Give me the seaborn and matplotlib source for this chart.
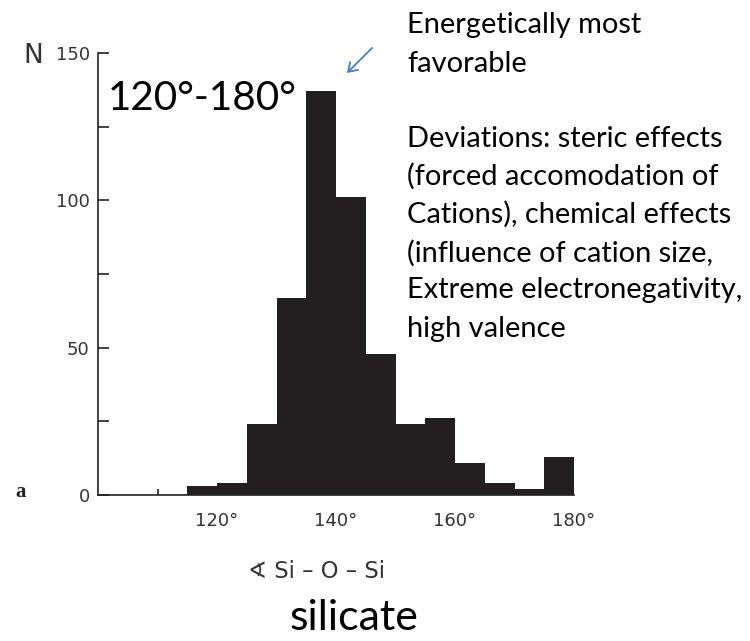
import matplotlib
matplotlib.use('Agg')
import matplotlib.pyplot as plt
import seaborn as sns

# ---- data ----
bin_edges = [115, 120, 125, 130, 135, 140, 145, 150, 155, 160, 165, 170, 175, 180]
counts = [3, 4, 24, 67, 137, 101, 48, 24, 26, 11, 4, 2, 13]
x_ticks = [120, 140, 160, 180]
x_tick_labels = ['120°', '140°', '160°', '180°']
y_ticks = [0, 50, 100, 150]
y_tick_labels = ['0', '50', '100', '150']
range_label = '120°-180°'
note_lines = ['Energetically most', 'favorable', '',
              'Deviations: steric effects', '(forced accomodation of',
              'Cations), chemical effects', '(influence of cation size,',
              'Extreme electronegativity,', 'high valence']
x_label = '∢ Si – O – Si'
title_bottom = 'silicate'

sns.set_style('ticks')
plt.rcParams['font.family'] = ['DejaVu Sans']

W, H = 750, 641
fig = plt.figure(figsize=(W / 100, H / 100), dpi=100)


def fx(x):
    return x / W


def fy(y):
    return 1 - y / H


ax = fig.add_axes([fx(98), fy(495), (574 - 98) / W, (495 - 53) / H])
centers = [(a + b) / 2 for a, b in zip(bin_edges[:-1], bin_edges[1:])]
sns.histplot(x=centers, weights=counts, bins=bin_edges, color='#231f20',
             alpha=1, edgecolor='none', linewidth=0, ax=ax)
ax.set_axisbelow(True)
ax.set_xlim(100, 180)
ax.set_ylim(0, 150)
ax.set_xlabel('')
ax.set_ylabel('')
for s in ['top', 'right']:
    ax.spines[s].set_visible(False)
for s in ['left', 'bottom']:
    ax.spines[s].set_linewidth(1.2)
    ax.spines[s].set_color('#222222')

ax.set_xticks(x_ticks, x_tick_labels)
ax.set_xticks([110, 130, 150, 170], minor=True)
ax.tick_params(axis='x', which='major', length=0, pad=12, labelsize=13, labelcolor='#333333')
ax.tick_params(axis='x', which='minor', direction='in', length=4, width=1.2, color='#222222')
ax.set_yticks(y_ticks, y_tick_labels)
ax.set_yticks([25, 75, 125], minor=True)
ax.tick_params(axis='y', which='both', direction='in', length=8, width=1.2,
               color='#222222', pad=6, labelsize=13, labelcolor='#333333')

fig.canvas.draw()
renderer = fig.canvas.get_renderer()


def fit_text(x, y, s, target_w, **kw):
    t = fig.text(fx(x), fy(y), s, fontsize=20, **kw)
    w = t.get_window_extent(renderer).width
    t.set_fontsize(20 * target_w / w)
    return t


ann_font = ['Lato', 'DejaVu Sans']
fit_text(108, 110, range_label, 189, family=ann_font, va='baseline', ha='left', color='black')

# notes
tmp = fig.text(0, 0, 'Extreme electronegativity,', fontsize=20, family=ann_font)
w = tmp.get_window_extent(renderer).width
tmp.remove()
note_size = 20 * 336 / w
baselines = [33, 72, 110, 147, 185, 223, 262, 298, 337]
for line, b in zip(note_lines, baselines):
    if line:
        fig.text(fx(407), fy(b), line, fontsize=note_size, family=ann_font,
                 va='baseline', ha='left', color='black')

fit_text(354, 630, title_bottom, 130, family=ann_font, va='baseline', ha='center', color='black')
fit_text(317, 578, x_label, 137, va='baseline', ha='center', color='#333333')

fig.text(fx(33), fy(56), 'N', fontsize=19, ha='center', va='center', color='#333333')
fig.text(fx(21), fy(497), 'a', fontsize=15, ha='center', va='baseline',
         family=['Liberation Serif', 'DejaVu Serif'], fontweight='bold', color='#222222')

fig.add_artist(matplotlib.patches.FancyArrowPatch(
    (fx(374), fy(46)), (fx(345), fy(75)), transform=fig.transFigure,
    arrowstyle='->,head_length=6,head_width=4', color='#4a7ebb', lw=1.3))

fig.savefig('out.png', dpi=100)
